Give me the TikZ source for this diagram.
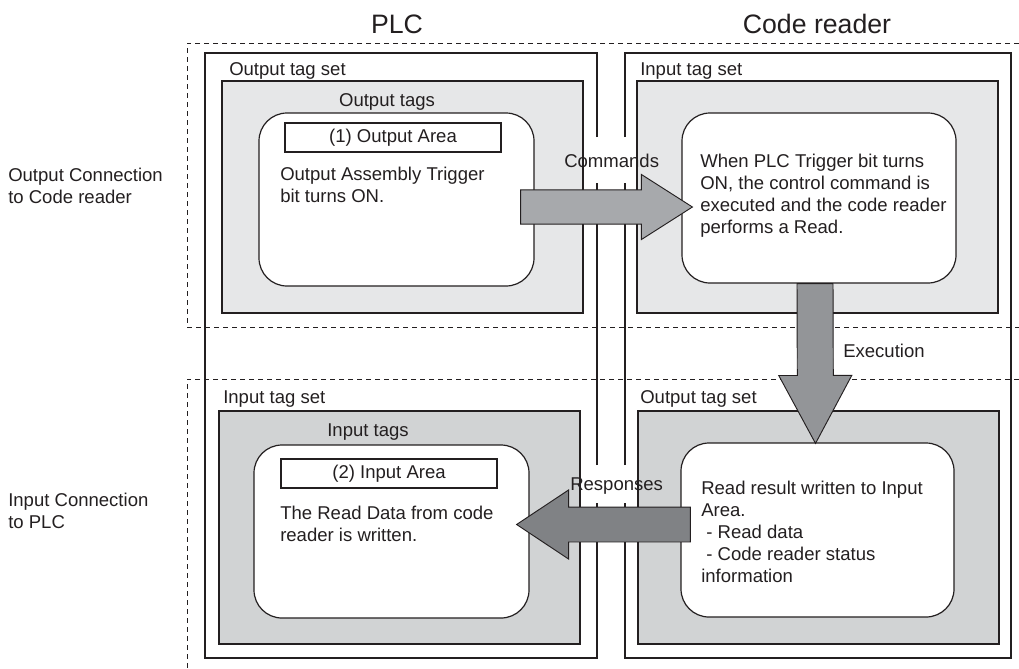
\documentclass[tikz,border=0pt]{standalone}
\usepackage{fontspec}
\setmainfont{Liberation Sans}
\usetikzlibrary{positioning,calc}

\definecolor{inkgray}{HTML}{231F20}
\definecolor{tagsetlight}{HTML}{E6E7E8}
\definecolor{tagsetdark}{HTML}{D1D3D4}
\definecolor{cmdgray}{HTML}{A7A9AC}
\definecolor{exegray}{HTML}{939598}
\definecolor{respgray}{HTML}{808285}

\tikzset{
  txt/.style={inner sep=0pt, text=inkgray, font=\fontsize{13.9}{16.4}\selectfont},
  % multi-line text: base is the baseline of the last line
  body/.style={txt, align=left, anchor=base west},
  head/.style={inner sep=0pt, text=inkgray, font=\fontsize{20}{24}\selectfont, anchor=base},
  conn/.style={draw=inkgray, line width=0.6pt, dash pattern=on 3.75pt off 3pt},
  frame/.style={draw=inkgray, line width=0.9pt},
  tagbox/.style={draw=inkgray, line width=0.9pt},
  areabox/.style={draw=inkgray, fill=white, line width=0.9pt, rounded corners=21pt, inner sep=0pt},
  titlebox/.style={txt, draw=inkgray, fill=white, line width=0.9pt, minimum width=162pt, minimum height=21.75pt},
  bigarrow/.style={draw=inkgray, line width=0.7pt, line join=miter},
}

% block arrow: fill, from, to, half shaft, half head, head length
\newcommand{\blockarrow}[6]{%
  \path ($(#3)!#6!(#2)$) coordinate (bah);
  \draw[bigarrow, fill=#1] ($(#2)!#4!90:(#3)$) -- ($(bah)!#4!-90:(#2)$)
    -- ($(bah)!#5!-90:(#2)$) -- (#3) -- ($(bah)!#5!90:(#2)$)
    -- ($(bah)!#4!90:(#2)$) -- ($(#2)!#4!-90:(#3)$) -- cycle;
}

\begin{document}
\begin{tikzpicture}[x=0.75pt, y=-0.75pt]
\useasboundingbox (0,0) rectangle (1019,668);

% connections
\draw[conn] (1019,43) -- (187,43) -- (187,327) -- (1019,327);
\draw[conn] (1019,379) -- (187,379) -- (187,668);
\node[body] (outconn) at (8,203.5) {Output Connection\\to Code reader};
\node[body] (inconn) at (8,528) {Input Connection\\to PLC};

% devices
\node[head] (plc) at (397,33) {PLC};
\node[head] (reader) at (817,33) {Code reader};
\draw[frame] (597,137) -- (597,53) -- (205,53) -- (205,658) -- (597,658) -- (597,503) (597,465) -- (597,183);
\draw[frame] (625,137) -- (625,53) -- (1011,53) -- (1011,658) -- (625,658) -- (625,503) (625,465) -- (625,183);

% tag sets
\draw[tagbox, fill=tagsetlight] (222,81) rectangle (583,313);
\draw[tagbox, fill=tagsetlight] (637,81) rectangle (998,313);
\draw[tagbox, fill=tagsetdark] (219,411) rectangle (580,644);
\draw[tagbox, fill=tagsetdark] (638,411) rectangle (999,644);
\node[txt, anchor=base west] (plcoutset) at (229,75) {Output tag set};
\node[txt, anchor=base west] (crinset) at (640,75) {Input tag set};
\node[txt, anchor=base west] (plcinset) at (223,403) {Input tag set};
\node[txt, anchor=base west] (croutset) at (640,403) {Output tag set};
\node[txt, anchor=base] (plcouttags) at (387,106) {Output tags};
\node[txt, anchor=base] (plcintags) at (368,436) {Input tags};

% areas
\node[areabox, minimum width=206.25pt, minimum height=129.75pt] (plcoutarea) at (396.5,199.5) {};
\node[areabox, minimum width=205.5pt, minimum height=127.5pt] (crinarea) at (819,198) {};
\node[areabox, minimum width=206.25pt, minimum height=129.75pt] (plcinarea) at (391.5,531.5) {};
\node[areabox, minimum width=204.75pt, minimum height=130.5pt] (croutarea) at (817.5,530) {};
\node[titlebox] (outtitle) at (393,137.5) {(1) Output Area};
\node[titlebox] (intitle) at (389,473.5) {(2) Input Area};
\node[body] (plcouttext) at (280,202) {Output Assembly Trigger\\bit turns ON.};
\node[body] (crintext) at (700,233) {When PLC Trigger bit turns\\ON, the control command is\\executed and the code reader\\performs a Read.};
\node[body] (plcintext) at (280,541) {The Read Data from code\\reader is written.};
\node[body] (crouttext) at (701,582) {Read result written to Input\\Area.\\\ - Read data\\\ - Code reader status\\information};

% flows
\coordinate (cmdfrom) at ($(plcoutarea.east)+(-14,7.5)$);
\coordinate (cmdto) at ($(crinarea.west)+(11,9)$);
\coordinate (exefrom) at ($(crinarea.south)+(-4,0)$);
\coordinate (exeto) at ($(croutarea.north)+(-2,1)$);
\coordinate (respfrom) at ($(croutarea.west)+(10,-5.5)$);
\coordinate (respto) at ($(plcinarea.east)+(-13,-7)$);
\blockarrow{cmdgray}{cmdfrom}{cmdto}{12.9pt}{24.4pt}{38.25pt}
\blockarrow{exegray}{exefrom}{exeto}{13.5pt}{27.4pt}{51pt}
\blockarrow{respgray}{respfrom}{respto}{13.1pt}{25.9pt}{39pt}
\node[txt, anchor=base west] (cmdlabel) at (564,167) {Commands};
\node[txt, anchor=base west] (exelabel) at (843,357) {Execution};
\node[txt, anchor=base west] (resplabel) at (570,490) {Responses};
\end{tikzpicture}
\end{document}
